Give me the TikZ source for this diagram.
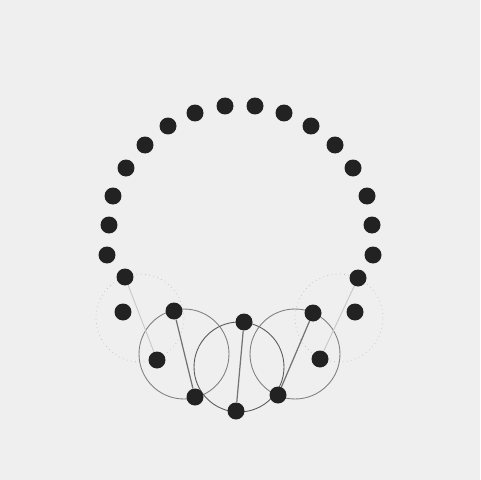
\documentclass[tikz,border=0pt]{standalone}
\usetikzlibrary{positioning}
\definecolor{paper}{RGB}{239,239,239}
\definecolor{ink}{RGB}{34,34,34}

\begin{document}
\begin{tikzpicture}[x=0.02cm, y=-0.02cm,
  dot/.style = {circle, fill=ink, inner sep=0pt, minimum size=0.34cm},
  ring/.style = {draw=black!50, circle, inner sep=0pt, minimum size=1.8cm, line width=0.5pt},
  ghost/.style = {draw=black!25, circle, dotted, inner sep=0pt, minimum size=1.76cm, line width=0.4pt},
  link/.style = {draw=black!55, line width=0.7pt},
  faint/.style = {draw=black!22, line width=0.5pt}]
\fill[paper] (0,0) rectangle (480,480);
\useasboundingbox (0,0) rectangle (480,480);
% rings behind the dots
\node[ghost] (g1) at (140,318) {};
\node[ghost] (g2) at (339,318) {};
\node[ring] (r1) at (184,354) {};
\node[ring, draw=black!65] (r2) at (239,367) {};
\node[ring] (r3) at (295,354) {};
% the upper arc
\foreach \x/\y [count=\i] in {225/106, 255/106, 195/113, 284/113, 168/126, 311/126, 145/145, 335/145,
  126/168, 353/168, 113/196, 367/196, 109/225, 372/225, 107/255, 373/255}
  \node[dot] (p\i) at (\x,\y) {};
% the lower dots
\foreach \x/\y [count=\i] in {125/277, 123/312, 174/311, 157/360, 195/397, 244/322,
  236/411, 313/313, 278/395, 358/278, 355/312, 320/359}
  \node[dot] (l\i) at (\x,\y) {};
\draw[faint] (l1) -- (l4);
\draw[link] (l3) -- (l5);
\draw[link] (l6) -- (l7);
\draw[link] (l8) -- (l9);
\draw[faint] (l10) -- (l12);
\end{tikzpicture}
\end{document}
